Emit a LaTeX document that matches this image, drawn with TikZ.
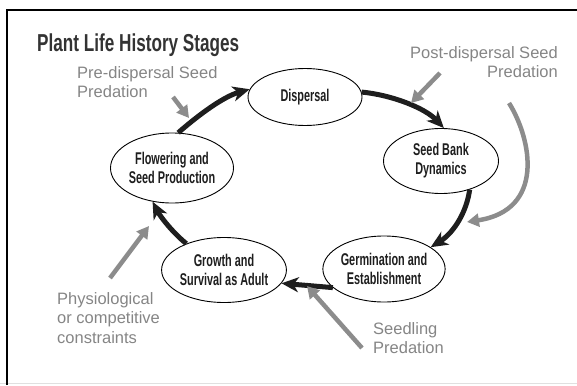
\documentclass[tikz,border=0pt]{standalone}
\usepackage{fontspec}
\setmainfont{Liberation Sans}
\newfontfamily\narrowsans[FakeStretch=0.64]{Liberation Sans}
\newfontfamily\titlesans[FakeStretch=0.70]{Liberation Sans}
\usetikzlibrary{arrows.meta,shapes.geometric}
\definecolor{pressgray}{HTML}{8C8C8C}
\definecolor{notegray}{HTML}{858585}
\definecolor{inkdark}{HTML}{1E1E1E}

\begin{document}
\begin{tikzpicture}[x=1pt,y=-1pt,
  stage/.style={ellipse, draw, line width=0.9pt, inner sep=0pt, align=center, text=inkdark,
    font=\narrowsans\bfseries\fontsize{17}{19}\selectfont},
  note/.style={inner sep=0pt, align=left, text=notegray, font=\fontsize{16.5}{19.5}\selectfont},
  lifearrow/.style={-{Stealth[length=17pt,width=15pt,inset=5pt]}, line width=5pt, draw=inkdark},
  pressure/.style={-{Triangle[length=12pt,width=13pt]}, line width=4.5pt, draw=pressgray}]
\useasboundingbox (0,0) rectangle (577,385);
% frame
\draw[black!12, line width=1.5pt] (0,383.5) -- (577,383.5);
\draw[line width=1.2pt] (7,385) -- (7,10) -- (577,10);

\node[font=\titlesans\bfseries\fontsize{24.5}{30}\selectfont, text=black!80, anchor=base west, inner sep=0pt]
  (title) at (37,52) {Plant Life History Stages};

% life cycle
\node[stage, minimum width=114, minimum height=57] (disp) at (305,97) {Dispersal};
\node[stage, minimum width=115, minimum height=65] (bank) at (441,161) {Seed Bank\\Dynamics};
\node[stage, minimum width=115, minimum height=66] (germ) at (384,269) {Germination and\\Establishment};
\node[stage, minimum width=124, minimum height=65] (adult) at (224,270) {Growth and\\Survival as Adult};
\node[stage, minimum width=123, minimum height=70] (flower) at (172,168) {Flowering and\\Seed Production};

\draw[lifearrow] (flower.80) .. controls (195,118) and (222,97) .. (disp.172);
\draw[lifearrow] (disp.5) .. controls (392,95) and (425,108) .. (bank.85);
\draw[lifearrow] (bank.-45) .. controls (467,210) and (455,232) .. (germ.25);
\draw[lifearrow] (germ.-160) -- (adult.-13);
\draw[lifearrow] (adult.145) .. controls (172,232) and (160,216) .. (flower.-120);

% pressures on the cycle
\node[note, anchor=north west] (pre) at (77,66) {Pre-dispersal Seed\\Predation};
\node[note, anchor=north east, align=right] (post) at (558,46) {Post-dispersal Seed\\Predation};
\node[note, anchor=north west] (phys) at (57,292) {Physiological\\or competitive\\constraints};
\node[note, anchor=north west] (seedling) at (373,322) {Seedling\\Predation};

\coordinate (preA) at (173,97);   \coordinate (preB) at (189,118);
\coordinate (postA) at (440,73);  \coordinate (postB) at (411,103);
\coordinate (bankA) at (509,103); \coordinate (bankB) at (467,222);
\coordinate (physA) at (110,278); \coordinate (physB) at (149,226);
\coordinate (seedA) at (362,348); \coordinate (seedB) at (307,286);

\draw[pressure] (preA) -- (preB);
\draw[pressure] (postA) -- (postB);
\draw[pressure] (bankA) .. controls (532,140) and (545,210) .. (bankB);
\draw[pressure] (physA) -- (physB);
\draw[pressure] (seedA) -- (seedB);
\end{tikzpicture}
\end{document}
